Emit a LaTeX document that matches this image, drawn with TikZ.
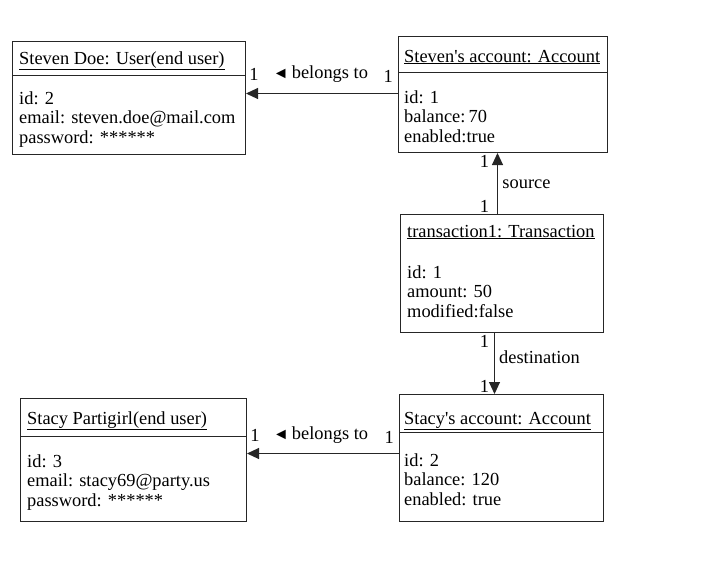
\documentclass[tikz,border=0pt]{standalone}
\usepackage{fontspec}
\setmainfont{Liberation Serif}
\usetikzlibrary{arrows.meta}

\tikzset{
  objbox/.style={draw=black!85, line width=1pt, anchor=north west, inner sep=0pt},
  sep/.style={draw=black!85, line width=1pt},
  title/.style={anchor=base west, inner sep=0pt},
  attrs/.style={anchor=north west, inner sep=0pt, align=left},
  link/.style={draw=black!85, line width=1pt, -{Triangle[length=12pt,width=11pt]}},
  mult/.style={inner sep=0pt}
}
\newcommand{\lefttri}{{\fontsize{16}{16}\selectfont ◄}}

\begin{document}
\begin{tikzpicture}[x=1pt, y=-1pt, font=\fontsize{18.4}{19.5}\selectfont]
\useasboundingbox (0,0) rectangle (719,560);
% object boxes
\node[objbox, minimum width=233pt, minimum height=113pt] (steven) at (12,41) {};
\node[objbox, minimum width=209pt, minimum height=116pt] (stevenacc) at (398,36) {};
\node[objbox, minimum width=203pt, minimum height=118pt] (trans) at (400,214) {};
\node[objbox, minimum width=226pt, minimum height=123pt] (stacy) at (20,398) {};
\node[objbox, minimum width=204pt, minimum height=127pt] (stacyacc) at (399,394) {};
% name compartments
\draw[sep] ([yshift=-34pt]steven.north west) -- ([yshift=-34pt]steven.north east);
\draw[sep] ([yshift=-36pt]stevenacc.north west) -- ([yshift=-36pt]stevenacc.north east);
\draw[sep] ([yshift=-38pt]stacy.north west) -- ([yshift=-38pt]stacy.north east);
\draw[sep] ([yshift=-38pt]stacyacc.north west) -- ([yshift=-38pt]stacyacc.north east);
% names
\node[title] (stevenname) at (19,64) {\underline{Steven Doe: User(end user)}};
\node[title] (stevenaccname) at (404,62) {\underline{Steven\textquotesingle s account: Account}};
\node[title] (transname) at (407,237) {\underline{transaction1: Transaction}};
\node[title] (stacyname) at (27,424) {\underline{Stacy Partigirl(end user)}};
\node[title] (stacyaccname) at (404,424) {\underline{Stacy\textquotesingle s account: Account}};
% attributes
\node[attrs] (stevenattr) at (19,91.4) {id: 2\\email: steven.doe@mail.com\\password: ******};
\node[attrs] (stevenaccattr) at (404,90.4) {id: 1\\balance:\,70\\enabled:true};
\node[attrs] (transattr) at (407,265.4) {id: 1\\amount: 50\\modified:false};
\node[attrs] (stacyattr) at (27,454.4) {id: 3\\email: stacy69@party.us\\password: ******};
\node[attrs] (stacyaccattr) at (404,453.4) {id: 2\\balance: 120\\enabled: true};
% links
\draw[link] ([yshift=1pt]stevenacc.west) -- ([yshift=1pt]stevenacc.west -| steven.east)
  node[mult, pos=0.065, yshift=17pt] (m1) {1}
  node[mult, pos=0.51, yshift=19pt] (b1) {\lefttri\,belongs to}
  node[mult, pos=0.948, yshift=19pt] (m2) {1};
\draw[link] ([xshift=-4.5pt]trans.north) -- ([xshift=-4.5pt]trans.north |- stevenacc.south)
  node[mult, pos=0.13, xshift=-13pt] (m3) {1}
  node[mult, pos=0.48, xshift=29pt] (src) {source}
  node[mult, pos=0.855, xshift=-13pt] (m4) {1};
\draw[link] ([xshift=-7.5pt]trans.south) -- ([xshift=-7.5pt]trans.south |- stacyacc.north)
  node[mult, pos=0.145, xshift=-10pt] (m5) {1}
  node[mult, pos=0.4, xshift=45pt] (dst) {destination}
  node[mult, pos=0.87, xshift=-10pt] (m6) {1};
\draw[link] ([yshift=4.5pt]stacyacc.west) -- ([yshift=4.5pt]stacyacc.west -| stacy.east)
  node[mult, pos=0.065, yshift=16pt] (m7) {1}
  node[mult, pos=0.516, yshift=18pt] (b2) {\lefttri\,belongs to}
  node[mult, pos=0.948, yshift=18pt] (m8) {1};
\end{tikzpicture}
\end{document}
